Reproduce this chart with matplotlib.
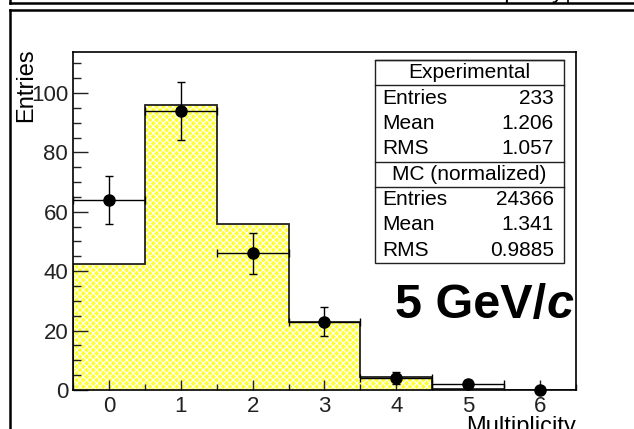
import numpy as np
import matplotlib
matplotlib.use('Agg')
import matplotlib.pyplot as plt
from matplotlib.patches import Rectangle
from matplotlib.lines import Line2D
from matplotlib.ticker import MultipleLocator

# multiplicity bins and contents
bin_centers = [0, 1, 2, 3, 4, 5, 6]
bin_edges = [-0.5, 0.5, 1.5, 2.5, 3.5, 4.5, 5.5, 6.5]
exp_counts = [64, 94, 46, 23, 4, 2, 0]
exp_errors = [8.0, 9.7, 6.8, 4.8, 2.0, 1.4, 0.0]
mc_counts = [42.5, 96, 56, 23, 4.5, 0.5, 0]

stats_rows = [
    ('Experimental', None),
    ('Entries', '233'),
    ('Mean', '1.206'),
    ('RMS', '1.057'),
    ('MC (normalized)', None),
    ('Entries', '24366'),
    ('Mean', '1.341'),
    ('RMS', '0.9885'),
]

W, H = 634, 429
plt.rcParams['font.family'] = ['Liberation Sans', 'DejaVu Sans']
plt.rcParams['hatch.linewidth'] = 0.8

fig = plt.figure(figsize=(W / 100, H / 100), dpi=100)


def px(x, y):
    # pixel position (from top-left) to figure fraction
    return x / W, 1 - y / H


ax_l, ax_r, ax_t, ax_b = 73, 576, 52, 390
ax = fig.add_axes([ax_l / W, 1 - ax_b / H, (ax_r - ax_l) / W, (ax_b - ax_t) / H])

# MC histogram: yellow dotted fill, dark outline
ax.stairs(mc_counts, bin_edges, fill=True, facecolor='#ffff30',
          edgecolor='white', hatch='xxxxx', lw=0, zorder=1)
ax.stairs(mc_counts, bin_edges, color='#222222', lw=1.3, zorder=2)

# experimental points
nz = [i for i, n in enumerate(exp_counts) if n > 0]
ax.errorbar([bin_centers[i] for i in nz], [exp_counts[i] for i in nz],
            xerr=0.5, yerr=[exp_errors[i] for i in nz], fmt='o', color='black',
            ms=8, elinewidth=1.0, capsize=3, capthick=1.0, zorder=4)
zero = [i for i, n in enumerate(exp_counts) if n == 0]
ax.plot([bin_centers[i] for i in zero], [exp_counts[i] for i in zero], 'o',
        color='black', ms=8, zorder=4, clip_on=False)

ax.set_xlim(-0.5, 6.5)
ax.set_ylim(0, 113.8)
ax.xaxis.set_major_locator(MultipleLocator(1))
ax.xaxis.set_minor_locator(MultipleLocator(0.5))
ax.yaxis.set_major_locator(MultipleLocator(20))
ax.yaxis.set_minor_locator(MultipleLocator(5))
ax.tick_params(axis='both', which='both', direction='in', top=False,
               right=False, labelsize=16, colors='#222222')
ax.tick_params(axis='y', which='major', length=11, width=1.0, pad=3.5)
ax.tick_params(axis='y', which='minor', length=6, width=1.0)
ax.tick_params(axis='x', which='major', length=7.5, width=1.0, pad=4)
ax.tick_params(axis='x', which='minor', length=4, width=1.0)
for s in ax.spines.values():
    s.set_linewidth(1.2)
    s.set_zorder(5)

ax.set_ylabel('Entries', loc='top', fontsize=17)
ax.yaxis.set_label_coords(-0.072, 1.01)
ax.set_xlabel('Multiplicity', loc='right', fontsize=17)
ax.xaxis.set_label_coords(1.0, -0.078)

# statistics box
bx0, bx1, by0, by1 = 375, 564, 60, 263
row_h = (by1 - by0) / len(stats_rows)
fig.add_artist(Rectangle(px(bx0, by1), (bx1 - bx0) / W, (by1 - by0) / H,
                         transform=fig.transFigure, facecolor='white',
                         edgecolor='#222222', lw=1.0, zorder=6))
for k, (name, value) in enumerate(stats_rows):
    yc = by0 + (k + 0.5) * row_h
    if value is None:
        fig.text(*px((bx0 + bx1) / 2, yc), name, ha='center', va='center',
                 fontsize=15, zorder=7)
        for yl in (by0 + k * row_h, by0 + (k + 1) * row_h):
            fig.add_artist(Line2D([bx0 / W, bx1 / W], [1 - yl / H] * 2,
                                  color='#222222', lw=1.0, zorder=7))
    else:
        fig.text(*px(bx0 + 7, yc), name, ha='left', va='center',
                 fontsize=15, zorder=7)
        fig.text(*px(bx1 - 10, yc), value, ha='right', va='center',
                 fontsize=15, zorder=7)

# beam momentum label
t1 = fig.text(*px(395, 318), '5 GeV/', fontsize=35, fontweight='bold',
              ha='left', va='baseline', zorder=7)
ax.annotate('c', xy=(1, 0), xycoords=t1, ha='left', va='bottom',
            fontsize=35, fontweight='bold', fontstyle='italic', zorder=7)

# pad frames
fig.add_artist(Line2D([10 / W, 10 / W], [0, 1 - 10 / H], color='black', lw=1.8))
fig.add_artist(Line2D([10 / W, 1], [1 - 10 / H] * 2, color='black', lw=1.8))
fig.add_artist(Line2D([10 / W, 1], [1 - 3 / H] * 2, color='black', lw=1.8))
fig.add_artist(Line2D([10 / W, 10 / W], [1 - 3 / H, 1], color='black', lw=1.8))
fig.add_artist(Line2D([568 / W, 568 / W], [1 - 3 / H, 1], color='black', lw=1.2))
fig.text(*px(564, -2), 'Multiplicity', ha='right', va='baseline', fontsize=17)

fig.savefig('out.png', dpi=100)
